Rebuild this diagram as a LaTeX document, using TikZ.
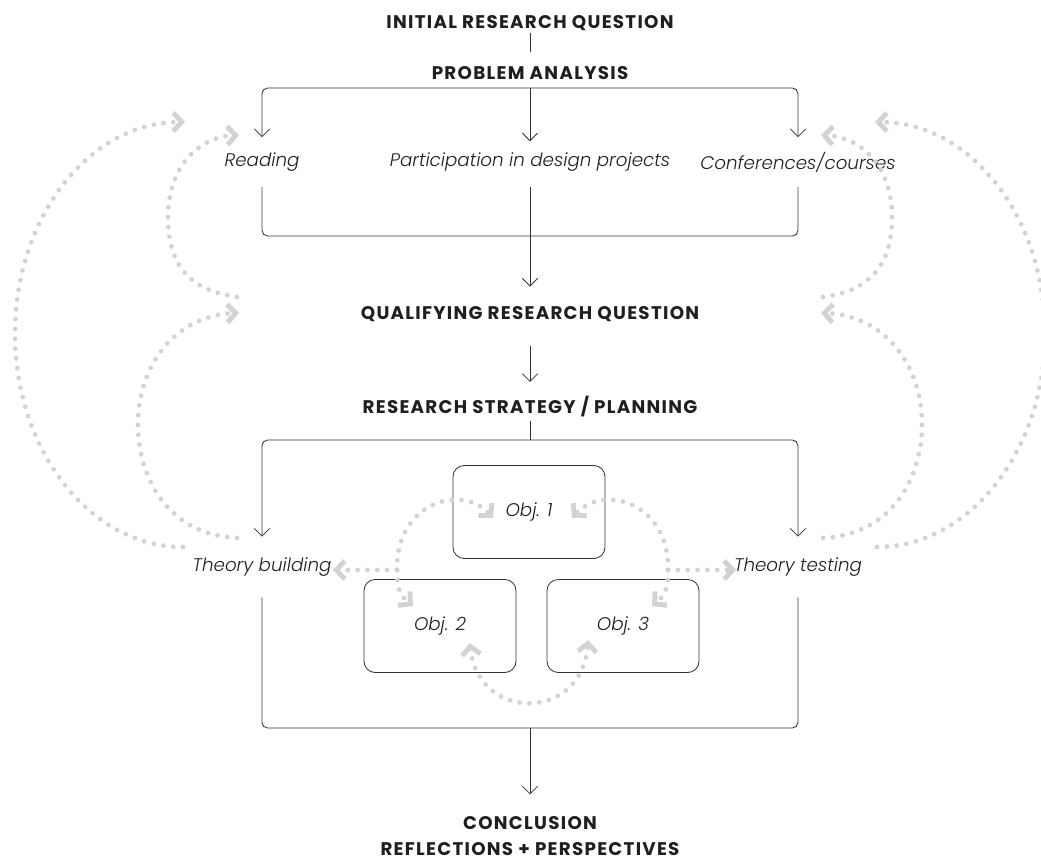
\documentclass[tikz,border=0pt]{standalone}
\usepackage{fontspec}
\setmainfont{Poppins}[ItalicFont={* Light Italic}]
\usetikzlibrary{positioning,calc,arrows.meta}
\definecolor{lg}{HTML}{D3D3D3}
\tikzset{
  hd/.style={font=\bfseries\fontsize{13}{15}\selectfont\addfontfeatures{LetterSpace=7}, text=black!88, text height=9.2pt, text depth=0pt, inner sep=0pt},
  act/.style={font=\itshape\fontsize{13}{15}\selectfont, text=black!88, minimum height=1.225cm, inner sep=0pt},
  th/.style={act, minimum height=1.5cm},
  obj/.style={rectangle, rounded corners=8pt, minimum width=3.8cm, minimum height=2.325cm, draw=black!80, line width=0.6pt, font=\itshape\fontsize{13}{15}\selectfont, text=black!88},
  ln/.style={draw=black!80, line width=0.6pt, rounded corners=4pt},
  lp/.style={draw=lg, line width=3.4pt, line cap=round, dash pattern=on 0pt off 7pt},
  Chev/.tip={Straight Barb[length=6pt,width=13pt,line width=3.5pt]},
  >={Straight Barb[length=5.5pt,width=11pt]}
}
\begin{document}
\begin{tikzpicture}[x=0.025cm, y=-0.025cm]
	\useasboundingbox (0,0) rectangle (1041,863);
	\node[hd] (irq) at (530,22) {INITIAL RESEARCH QUESTION};
	\node[hd] (pa) at (530,73) {PROBLEM ANALYSIS};
	\node[act] (read) at (262,162) {Reading};
	\node[act] (part) at (530,162) {Participation in design projects};
	\node[act] (conf) at (798,162) {Conferences/courses};
	\node[hd] (qrq) at (530,313) {QUALIFYING RESEARCH QUESTION};
	\node[hd] (rsp) at (530,407) {RESEARCH STRATEGY / PLANNING};
	\node[th] (tb) at (262,567) {Theory building};
	\node[th] (tt) at (798,567) {Theory testing};
	\node[obj] (o1) at (529,512) {Obj. 1};
	\node[obj] (o2) at (440,626) {Obj. 2};
	\node[obj] (o3) at (623,626) {Obj. 3};
	\node[hd] (con) at (530,823) {CONCLUSION};
	\node[hd, below=6.5mm of con.center, anchor=center] (ref) {REFLECTIONS + PERSPECTIVES};

	\coordinate (j1) at (530,88);
	\coordinate (j2) at (530,236);
	\coordinate (j3) at (530,440);
	\coordinate (j4) at (530,728);

	\draw[ln, shorten <=3pt, shorten >=10pt] (irq) -- (pa);
	\draw[ln,->] (j1) -| (read.north);
	\draw[ln,->] (j1) -| (conf.north);
	\draw[ln,->, shorten >=-3pt] (j1) -- (part);
	\draw[ln] (read) -- (read |- j2) -- (conf |- j2) -- (conf);
	\draw[ln,->, shorten >=14pt] (part) -- (qrq);
	\draw[ln,->, shorten <=18.5pt, shorten >=13pt] (qrq) -- (rsp);
	\draw[ln, shorten <=5pt] (rsp) -- (j3);
	\draw[ln,->] (j3) -| (tb.north);
	\draw[ln,->] (j3) -| (tt.north);
	\draw[ln] (tb) -- (tb |- j4) -- (tt |- j4) -- (tt);
	\draw[ln,->, shorten >=15.5pt] (j4) -- (con);

	% grey feedback loops
	\draw[lp,-Chev] (183,547) .. controls (90,547) and (15,450) .. (15,334) .. controls (15,215) and (91,122) .. (185,122);
	\draw[lp,-Chev] (877,547) .. controls (970,547) and (1045,450) .. (1045,334) .. controls (1045,215) and (969,122) .. (875,122);
	\draw[lp,-Chev] (237,297) .. controls (185,290) and (168,260) .. (168,217) .. controls (168,165) and (200,137) .. (239,135);
	\draw[lp,-Chev] (823,297) .. controls (875,290) and (892,260) .. (892,217) .. controls (892,165) and (860,137) .. (821,135);
	\draw[lp,-Chev] (237,538) .. controls (170,535) and (138,480) .. (138,425) .. controls (138,360) and (180,315) .. (239,313);
	\draw[lp,-Chev] (823,538) .. controls (890,535) and (922,480) .. (922,425) .. controls (922,360) and (880,315) .. (821,313);

	\coordinate (J1) at (397,570);
	\coordinate (J2) at (668,570);
	\draw[lp,-Chev] (J1) -- (333,570);
	\draw[lp,-Chev] (J1) .. controls (395,505) and (460,482) .. (493,518);
	\draw[lp,-Chev] (J1) .. controls (397,590) and (400,595) .. (413,606);
	\draw[lp,-Chev] (J2) -- (736,570);
	\draw[lp,-Chev] (J2) .. controls (670,505) and (605,482) .. (572,518);
	\draw[lp,-Chev] (J2) .. controls (668,590) and (665,595) .. (652,606);
	\draw[lp,Chev-Chev] (470,643) .. controls (478,722) and (582,722) .. (588,640);
\end{tikzpicture}
\end{document}
